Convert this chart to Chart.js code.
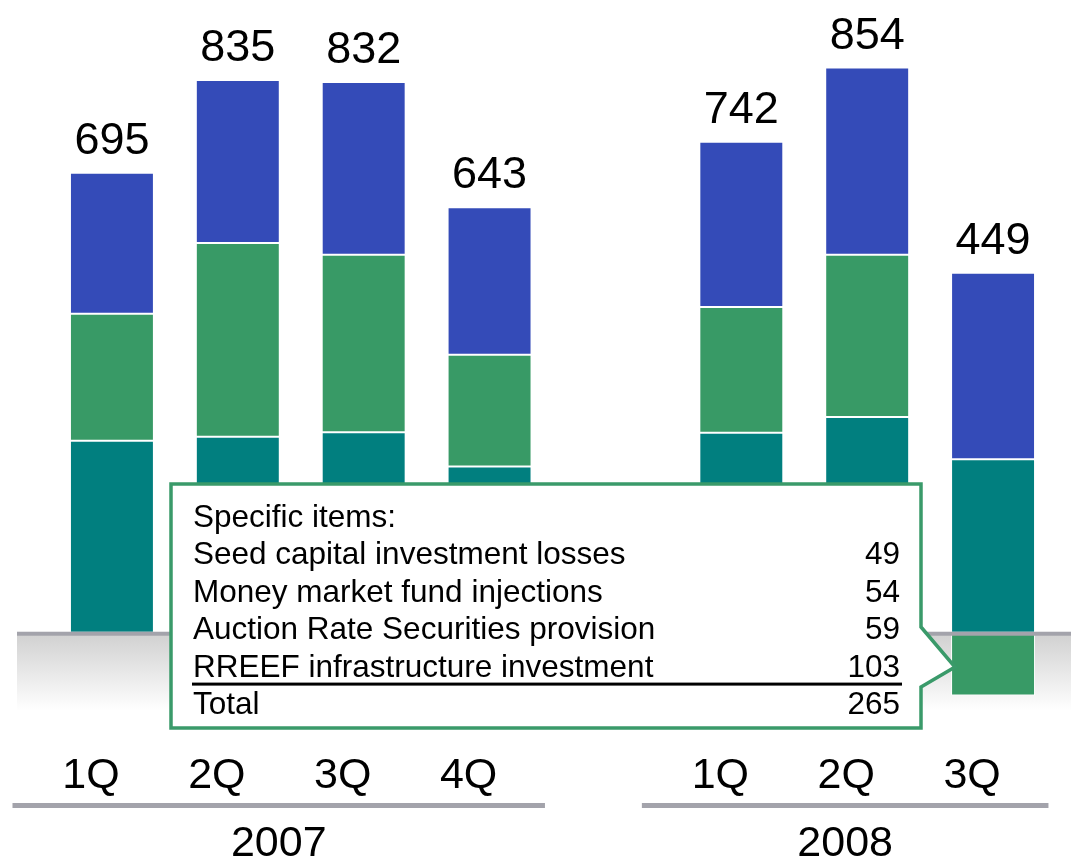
<!DOCTYPE html>
<html>
<head>
<meta charset="utf-8">
<script src="https://cdn.jsdelivr.net/npm/chart.js@4/dist/chart.umd.min.js"></script>
<style>
  html, body { margin: 0; padding: 0; background: #fff; }
  #wrap { width: 1071px; height: 861px; position: relative; }
</style>
</head>
<body>
<div id="wrap"><canvas id="chart"></canvas></div>
<script>
// quarters, with an empty slot between the two years
const quarters = ['1Q', '2Q', '3Q', '4Q', '', '1Q', '2Q', '3Q'];
const years = ['2007', '2008'];
const yearSlots = [[0, 3], [5, 7]];

// stacked segments, bottom to top
const tealValues = [290, 296, 303, 251, null, 302, 326, 262];
const greenValues = [192, 293, 268, 169, null, 190, 245, -95];
const blueValues = [213, 246, 261, 223, null, 250, 283, 282];

// callout box
const itemsTitle = 'Specific items:';
const itemLabels = ['Seed capital investment losses', 'Money market fund injections', 'Auction Rate Securities provision', 'RREEF infrastructure investment'];
const itemValues = [49, 54, 59, 103];

const FONT = "'Liberation Sans', Arial, sans-serif";

const decor = {
    id: 'decor',
    beforeDatasetsDraw(chart) {
        const c = chart.ctx;
        const y0 = chart.scales.y.getPixelForValue(0);
        const g = c.createLinearGradient(0, y0, 0, y0 + 78);
        g.addColorStop(0, '#d0d0d0');
        g.addColorStop(1, 'rgba(255,255,255,1)');
        c.save();
        c.fillStyle = g;
        c.fillRect(17, y0, 1071 - 17, 78);
        c.restore();
    },
    afterDatasetsDraw(chart) {
        const c = chart.ctx;
        const x = chart.scales.x, y = chart.scales.y;
        const y0 = y.getPixelForValue(0);
        c.save();
        c.fillStyle = '#a3a3ab';
        c.fillRect(17, y0 - 1, 1071 - 17, 4);

        // totals above bars
        c.fillStyle = '#000';
        c.font = '45px ' + FONT;
        c.textAlign = 'center';
        c.textBaseline = 'alphabetic';
        quarters.forEach((q, i) => {
            if (tealValues[i] == null) return;
            const vals = [tealValues[i], greenValues[i], blueValues[i]];
            const total = vals.reduce((a, b) => a + b, 0);
            const top = vals.filter(v => v > 0).reduce((a, b) => a + b, 0);
            c.fillText(String(total), x.getPixelForValue(i), y.getPixelForValue(top) - 19);
        });

        // quarter labels (sit a little left of the bar centres)
        c.font = '43px ' + FONT;
        quarters.forEach((q, i) => {
            if (q) c.fillText(q, x.getPixelForValue(i) - 21, 788);
        });

        // year lines and labels
        const slot = x.getPixelForValue(1) - x.getPixelForValue(0);
        years.forEach((yr, k) => {
            const a = x.getPixelForValue(yearSlots[k][0]) - slot * 0.79;
            const b = x.getPixelForValue(yearSlots[k][1]) + slot * 0.44;
            c.fillStyle = '#a3a3ab';
            c.fillRect(a, 803, b - a, 5);
            c.fillStyle = '#000';
            c.fillText(yr, (a + b) / 2, 856);
        });
        c.restore();
    },
    afterDraw(chart) {
        const c = chart.ctx;
        const L = 171, T = 484, R = 921, B = 728;
        c.save();
        c.beginPath();
        c.moveTo(L, T);
        c.lineTo(R, T);
        c.lineTo(R, 627);
        c.lineTo(955, 667);
        c.lineTo(R, 687);
        c.lineTo(R, B);
        c.lineTo(L, B);
        c.closePath();
        c.fillStyle = '#fff';
        c.fill();
        c.lineWidth = 3.5;
        c.strokeStyle = '#3a9a6a';
        c.lineJoin = 'miter';
        c.stroke();

        c.fillStyle = '#000';
        c.font = '31.5px ' + FONT;
        c.textBaseline = 'alphabetic';
        const tx = 193, nx = 900, step = 37.4;
        let by = 527;
        c.textAlign = 'left';
        c.fillText(itemsTitle, tx, by);
        itemLabels.forEach((lab, i) => {
            by += step;
            c.textAlign = 'left';
            c.fillText(lab, tx, by);
            c.textAlign = 'right';
            c.fillText(String(itemValues[i]), nx, by);
        });
        c.fillRect(192, by + 6, 902 - 192, 3);
        by += step;
        c.textAlign = 'left';
        c.fillText('Total', tx, by);
        c.textAlign = 'right';
        c.fillText(String(itemValues.reduce((a, b) => a + b, 0)), nx, by);
        c.restore();
    }
};

const ctx = document.getElementById('chart').getContext('2d');
const chart = new Chart(ctx, {
    type: 'bar',
    data: {
        labels: quarters,
        datasets: [
            { label: 'teal', data: tealValues, backgroundColor: '#017f7f' },
            { label: 'green', data: greenValues, backgroundColor: '#389a66' },
            { label: 'blue', data: blueValues, backgroundColor: '#344bb8' }
        ]
    },
    options: {
        responsive: true,
        maintainAspectRatio: false,
        animation: false,
        layout: { padding: { left: 49, right: 15, top: 4, bottom: 129 } },
        datasets: {
            bar: {
                categoryPercentage: 1,
                barPercentage: 0.667,
                borderColor: '#ffffff',
                borderWidth: 1,
                borderSkipped: false
            }
        },
        scales: {
            x: { display: false, stacked: true },
            y: { display: false, stacked: true, min: -150, max: 950 }
        },
        plugins: {
            legend: { display: false },
            tooltip: { enabled: false }
        }
    },
    plugins: [decor]
});
</script>
</body>
</html>
